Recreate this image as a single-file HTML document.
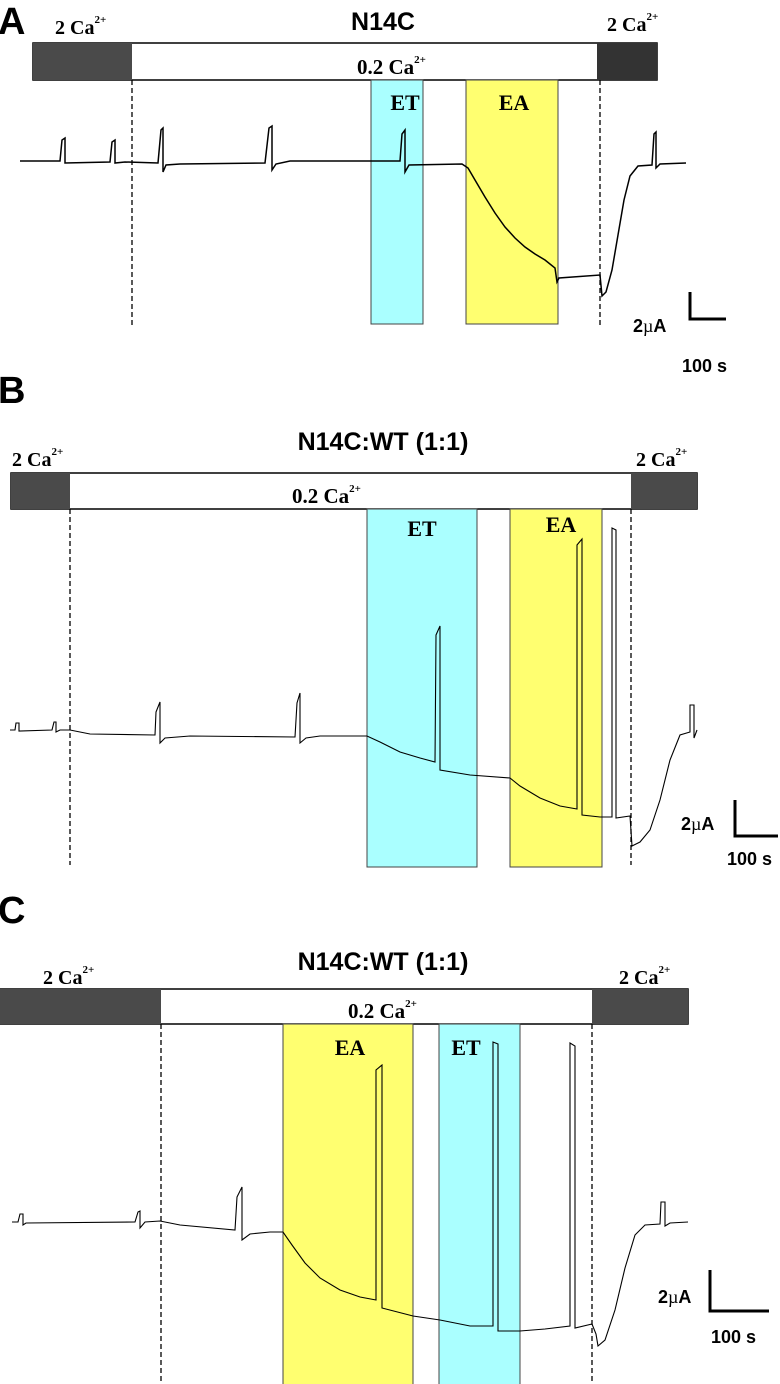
<!DOCTYPE html>
<html><head><meta charset="utf-8"><style>
html,body{margin:0;padding:0;background:#fff;}
svg{display:block;}
.s{font-family:"Liberation Serif",serif;font-weight:bold;}
.h{font-family:"Liberation Sans",sans-serif;font-weight:bold;}
</style></head><body>
<svg width="780" height="1384" viewBox="0 0 780 1384" xmlns="http://www.w3.org/2000/svg">
<!-- Panel A -->
<text x="-2" y="34" class="h" font-size="38">A</text>
<text x="383" y="30" class="h" font-size="25" text-anchor="middle">N14C</text>
<text x="55" y="34" class="s" font-size="20">2 Ca<tspan font-size="11" dy="-11">2+</tspan></text>
<text x="607" y="31" class="s" font-size="20">2 Ca<tspan font-size="11" dy="-11">2+</tspan></text>
<rect x="33" y="43" width="624" height="37" fill="#fff" stroke="#000" stroke-width="1.5"/>
<rect x="33" y="43" width="99" height="37" fill="#4a4a4a"/>
<rect x="597" y="43" width="60" height="37" fill="#333"/>
<text x="357" y="74" class="s" font-size="21">0.2 Ca<tspan font-size="11" dy="-11">2+</tspan></text>
<rect x="371" y="80" width="52" height="244" fill="#aaffff" stroke="#444" stroke-width="1"/>
<rect x="466" y="80" width="92" height="244" fill="#ffff70" stroke="#444" stroke-width="1"/>
<text x="405" y="110" class="s" font-size="22" text-anchor="middle">ET</text>
<text x="514" y="110" class="s" font-size="22" text-anchor="middle">EA</text>
<g stroke="#000" stroke-width="1.3" stroke-dasharray="5,3"><line x1="132" y1="80" x2="132" y2="328"/><line x1="600" y1="80" x2="600" y2="328"/></g>
<polyline fill="none" stroke="#000" stroke-width="1.5" points="20,161 60,161 62,140 65,138 65,163 110,162 112,142 115,140 115,163 125,162 158,163 161,130 163,128 163,172 166,165 180,164 265,163 269,128 272,126 272,170 276,164 290,161 370,161 400,161 402,134 405,130 405,172 409,165 462,164 468,168 475,180 485,197 495,213 505,227 515,238 525,247 535,254 545,260 555,268 557,282 559,278 600,275 602,296 606,292 612,270 618,235 624,200 630,176 638,166 652,165 654,134 656,132 656,168 660,164 686,163"/>
<g stroke="#000" stroke-width="3" fill="none"><polyline points="690,292 690,319 726,319"/></g>
<text x="633" y="332" class="h" font-size="18">2<tspan font-family="Liberation Serif" font-weight="normal">µ</tspan>A</text>
<text x="682" y="372" class="h" font-size="18">100 s</text>

<!-- Panel B -->
<text x="-2" y="403" class="h" font-size="38">B</text>
<text x="383" y="450" class="h" font-size="25" text-anchor="middle">N14C:WT (1:1)</text>
<text x="12" y="466" class="s" font-size="20">2 Ca<tspan font-size="11" dy="-11">2+</tspan></text>
<text x="636" y="466" class="s" font-size="20">2 Ca<tspan font-size="11" dy="-11">2+</tspan></text>
<rect x="11" y="473" width="686" height="36" fill="#fff" stroke="#000" stroke-width="1.5"/>
<rect x="11" y="473" width="59" height="36" fill="#4a4a4a"/>
<rect x="631" y="473" width="66" height="36" fill="#4a4a4a"/>
<text x="292" y="503" class="s" font-size="21">0.2 Ca<tspan font-size="11" dy="-11">2+</tspan></text>
<rect x="367" y="509" width="110" height="358" fill="#aaffff" stroke="#444" stroke-width="1"/>
<rect x="510" y="509" width="92" height="358" fill="#ffff70" stroke="#444" stroke-width="1"/>
<text x="422" y="536" class="s" font-size="22" text-anchor="middle">ET</text>
<text x="561" y="532" class="s" font-size="22" text-anchor="middle">EA</text>
<g stroke="#000" stroke-width="1.3" stroke-dasharray="5,3"><line x1="70" y1="509" x2="70" y2="865"/><line x1="631" y1="509" x2="631" y2="865"/></g>
<polyline fill="none" stroke="#000" stroke-width="1.1" points="10,730 15,730 16,723 19,723 19,731 52,730 54,722 56,722 56,732 60,730 70,730 90,734 155,735 156,712 160,702 160,743 165,738 190,736 295,737 297,703 300,693 300,743 306,738 320,736 367,736 380,742 400,752 420,758 435,762 436,635 440,626 440,770 470,775 510,778 520,786 540,798 560,806 577,809 577,545 582,539 582,815 600,817 612,817 612,528 616,530 616,818 630,816 632,846 640,842 650,830 660,800 670,760 680,735 690,732 690,705 694,705 694,738 697,730"/>
<g stroke="#000" stroke-width="3" fill="none"><polyline points="735,800 735,836 778,836"/></g>
<text x="681" y="830" class="h" font-size="18">2<tspan font-family="Liberation Serif" font-weight="normal">µ</tspan>A</text>
<text x="727" y="865" class="h" font-size="18">100 s</text>

<!-- Panel C -->
<text x="-2" y="923" class="h" font-size="38">C</text>
<text x="383" y="970" class="h" font-size="25" text-anchor="middle">N14C:WT (1:1)</text>
<text x="43" y="984" class="s" font-size="20">2 Ca<tspan font-size="11" dy="-11">2+</tspan></text>
<text x="619" y="984" class="s" font-size="20">2 Ca<tspan font-size="11" dy="-11">2+</tspan></text>
<rect x="0" y="989" width="688" height="35" fill="#fff" stroke="#000" stroke-width="1.5"/>
<rect x="0" y="989" width="161" height="35" fill="#4a4a4a"/>
<rect x="592" y="989" width="96" height="35" fill="#4a4a4a"/>
<text x="348" y="1018" class="s" font-size="21">0.2 Ca<tspan font-size="11" dy="-11">2+</tspan></text>
<rect x="283" y="1024" width="130" height="362" fill="#ffff70" stroke="#444" stroke-width="1"/>
<rect x="439" y="1024" width="81" height="362" fill="#aaffff" stroke="#444" stroke-width="1"/>
<text x="350" y="1055" class="s" font-size="22" text-anchor="middle">EA</text>
<text x="466" y="1055" class="s" font-size="22" text-anchor="middle">ET</text>
<g stroke="#000" stroke-width="1.3" stroke-dasharray="5,3"><line x1="161" y1="1024" x2="161" y2="1384"/><line x1="592" y1="1024" x2="592" y2="1384"/></g>
<polyline fill="none" stroke="#000" stroke-width="1.1" points="12,1222 18,1222 20,1214 23,1214 23,1225 26,1223 135,1222 138,1212 140,1211 140,1228 145,1222 160,1221 180,1225 235,1230 237,1197 242,1187 242,1240 250,1234 270,1232 283,1232 292,1245 305,1263 320,1278 340,1290 360,1297 376,1300 376,1070 382,1065 382,1308 413,1316 440,1320 470,1326 493,1326 493,1042 498,1044 498,1331 520,1331 545,1329 570,1326 570,1043 575,1046 575,1328 592,1324 596,1334 598,1346 605,1340 615,1310 625,1268 635,1235 645,1225 660,1224 661,1202 665,1202 665,1226 670,1223 688,1222"/>
<g stroke="#000" stroke-width="3" fill="none"><polyline points="710,1270 710,1311 769,1311"/></g>
<text x="658" y="1303" class="h" font-size="18">2<tspan font-family="Liberation Serif" font-weight="normal">µ</tspan>A</text>
<text x="711" y="1343" class="h" font-size="18">100 s</text>
</svg>
</body></html>
